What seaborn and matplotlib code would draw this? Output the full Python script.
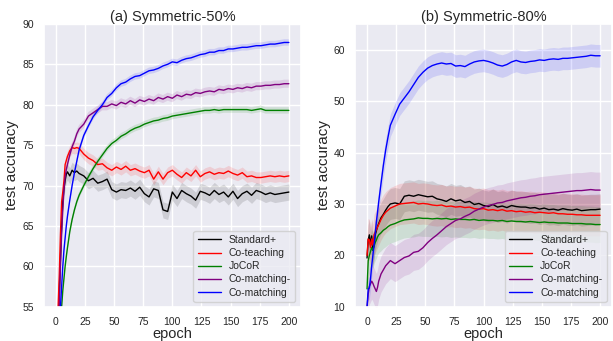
# test accuracy curves, symmetric label noise 50% / 80%
import numpy as np
import matplotlib
matplotlib.use('Agg')
import matplotlib.pyplot as plt
import seaborn as sns

epochs = list(range(0, 11)) + [12, 14, 16, 18, 20] + list(range(24, 201, 4))

methods = ['Standard+', 'Co-teaching', 'JoCoR', 'Co-matching-', 'Co-matching']
colors = ['black', 'red', 'green', 'purple', 'blue']

# (a) Symmetric-50%
sym50_standard = [38, 44, 52, 57, 61, 65, 68, 69.6, 70.6, 71.4, 71.7,
                  71.2, 71.9, 71.6, 71.8, 71.5,
                  71.2, 70.6, 70.9, 70.3, 70.5, 70.8, 69.5, 69.2, 69.5, 69.4,
                  69.7, 69.3, 69.8, 69.0, 68.6, 69.6, 69.4, 67.0, 66.8, 69.2,
                  68.4, 69.4, 69.0, 68.7, 68.2, 69.3, 69.1, 68.8, 69.4, 68.9,
                  69.2, 68.6, 69.3, 68.4, 69.0, 69.3, 68.8, 69.4, 69.2, 68.9,
                  69.1, 68.9, 69.0, 69.1, 69.2]
sym50_coteaching = [40, 47, 55, 59, 64, 68, 69.2, 70.6, 72.6, 73.1, 73.6,
                    74.3, 74.7, 74.6, 74.7, 74.6,
                    73.9, 73.4, 73.1, 72.6, 72.7, 72.2, 71.9, 72.3, 72.0, 72.4,
                    71.9, 72.1, 71.8, 71.6, 71.9, 70.8, 71.7, 70.8, 71.6, 71.9,
                    71.4, 71.0, 71.6, 71.2, 71.9, 71.1, 71.5, 71.7, 71.4, 71.6,
                    71.5, 71.8, 71.5, 71.3, 71.6, 71.1, 71.2, 71.0, 71.0, 71.1,
                    71.2, 71.1, 71.2, 71.1, 71.2]
sym50_jocor = [30, 36, 41, 46, 50, 55, 57, 58.5, 60, 61.2, 62.3,
               64.3, 65.8, 67.0, 68.0, 68.8,
               70.0, 71.1, 72.1, 73.0, 73.8, 74.6, 75.2, 75.6, 76.1, 76.4,
               76.8, 77.1, 77.3, 77.6, 77.8, 78.0, 78.1, 78.3, 78.4, 78.6,
               78.7, 78.8, 78.9, 79.0, 79.1, 79.2, 79.3, 79.3, 79.4, 79.3,
               79.4, 79.4, 79.4, 79.4, 79.4, 79.4, 79.3, 79.4, 79.5, 79.3,
               79.3, 79.3, 79.3, 79.3, 79.3]
sym50_comatch_minus = [38, 45, 50, 55, 60, 64, 67, 69.5, 71, 72, 72.6,
                       73.8, 74.8, 75.5, 76.4, 77.0,
                       77.6, 78.6, 79.0, 79.4, 79.8, 79.8, 80.1, 79.9, 80.3, 80.1,
                       80.5, 80.2, 80.6, 80.4, 80.7, 80.5, 80.9, 80.7, 81.0, 80.8,
                       81.2, 81.0, 81.3, 81.2, 81.5, 81.4, 81.6, 81.7, 81.6, 81.9,
                       81.8, 82.0, 81.9, 82.1, 82.0, 82.2, 82.1, 82.3, 82.3, 82.4,
                       82.4, 82.5, 82.5, 82.6, 82.6]
sym50_comatch = [30, 38, 45, 50, 55, 57.5, 60, 62, 63.5, 65, 66.2,
                 68.2, 70.0, 71.6, 73.0, 74.4,
                 76.2, 77.4, 78.5, 79.3, 80.0, 80.9, 81.4, 82.1, 82.6, 82.8,
                 83.2, 83.5, 83.6, 83.9, 84.2, 84.3, 84.5, 84.8, 85.0, 85.3,
                 85.2, 85.5, 85.7, 85.8, 86.0, 86.2, 86.3, 86.5, 86.5, 86.7,
                 86.7, 86.9, 86.9, 87.0, 87.1, 87.1, 87.2, 87.3, 87.3, 87.4,
                 87.5, 87.5, 87.6, 87.7, 87.7]
sym50_spread = [1.0, 0.7, 0.4, 0.5, 0.4]

# (b) Symmetric-80%
sym80_standard = [19.5, 23.0, 24.0, 22.0, 23.8, 21.0, 22.0, 24.0, 24.8, 25.6, 26.2,
                  27.3, 28.0, 28.8, 29.5, 30.0,
                  30.2, 30.0, 31.5, 31.7, 31.5, 31.8, 31.6, 31.4, 31.5, 31.0,
                  30.8, 30.5, 31.0, 30.6, 30.8, 30.3, 30.5, 29.9, 30.1, 29.7,
                  29.5, 29.9, 29.4, 29.6, 29.3, 29.7, 29.5, 29.4, 29.4, 29.2,
                  29.3, 29.0, 29.2, 28.9, 29.0, 28.8, 29.1, 28.9, 28.8, 29.0,
                  28.7, 28.8, 28.9, 28.9, 29.0]
sym80_coteaching = [20.0, 23.2, 23.0, 21.5, 23.2, 22.0, 24.0, 24.5, 25.0, 25.5, 26.0,
                    27.0, 27.8, 28.4, 28.8, 29.2,
                    29.6, 30.0, 30.1, 30.2, 30.3, 30.0, 30.1, 30.0, 29.8, 29.7,
                    29.8, 29.5, 29.6, 29.4, 29.5, 29.3, 29.4, 29.1, 29.0, 29.1,
                    28.8, 28.9, 28.7, 28.9, 28.6, 28.7, 28.5, 28.6, 28.4, 28.5,
                    28.3, 28.4, 28.3, 28.2, 28.3, 28.1, 28.1, 28.0, 28.0, 27.9,
                    27.9, 27.8, 27.8, 27.8, 27.8]
sym80_jocor = [13.5, 19.0, 20.0, 20.8, 21.5, 21.0, 21.8, 22.5, 23.0, 23.6, 24.0,
               24.4, 24.9, 25.2, 25.6, 25.9,
               26.2, 26.6, 26.9, 27.0, 27.1, 27.3, 27.2, 27.2, 27.1, 27.2,
               27.1, 27.2, 27.0, 27.1, 27.0, 27.0, 26.9, 27.0, 26.8, 26.9,
               26.8, 26.8, 26.7, 26.8, 26.6, 26.7, 26.6, 26.6, 26.5, 26.6,
               26.5, 26.4, 26.5, 26.4, 26.4, 26.3, 26.3, 26.3, 26.2, 26.2,
               26.2, 26.1, 26.1, 26.0, 26.0]
sym80_comatch_minus = [10.0, 12.5, 14.0, 14.5, 15.0, 14.6, 14.0, 13.5, 13.0, 13.8, 15.0,
                       16.4, 17.2, 18.0, 18.5, 19.0,
                       18.4, 19.0, 19.6, 19.9, 20.6, 20.8, 21.5, 22.5, 23.3, 24.0,
                       24.8, 25.6, 26.2, 26.8, 27.1, 27.6, 28.0, 28.6, 29.0, 29.4,
                       29.7, 29.9, 30.2, 30.3, 30.6, 30.8, 31.0, 31.2, 31.3, 31.5,
                       31.6, 31.8, 31.9, 32.0, 32.1, 32.2, 32.3, 32.4, 32.5, 32.6,
                       32.6, 32.7, 32.8, 32.7, 32.7]
sym80_comatch = [10.0, 13.5, 13.7, 15.5, 18.0, 20.0, 22.0, 24.2, 26.5, 28.4, 30.4,
                 34.0, 37.5, 40.5, 43.0, 45.3,
                 47.4, 49.4, 50.6, 51.8, 53.2, 54.6, 55.6, 56.4, 56.9, 57.2,
                 57.4, 57.2, 57.3, 56.8, 56.9, 56.7, 57.2, 57.6, 57.8, 57.9,
                 57.7, 57.4, 57.0, 56.8, 57.1, 57.6, 57.9, 57.6, 57.5, 57.7,
                 57.8, 58.0, 57.9, 58.1, 58.2, 58.1, 58.3, 58.3, 58.4, 58.5,
                 58.6, 58.7, 58.9, 58.8, 58.8]
sym80_spread = [3.0, 4.0, 3.5, 3.5, 2.2]

sns.set_theme(style='darkgrid')
plt.rcParams['font.family'] = ['Liberation Sans', 'DejaVu Sans']

fig, (ax1, ax2) = plt.subplots(ncols=2, figsize=(6.13, 3.41), dpi=100)

panels = [
    (ax1, [sym50_standard, sym50_coteaching, sym50_jocor, sym50_comatch_minus, sym50_comatch],
     sym50_spread, '(a) Symmetric-50%', (55, 90), range(55, 91, 5)),
    (ax2, [sym80_standard, sym80_coteaching, sym80_jocor, sym80_comatch_minus, sym80_comatch],
     sym80_spread, '(b) Symmetric-80%', (10, 65), range(10, 61, 10)),
]

x = np.array(epochs)
for ax, series, spread, title, ylim, yticks in panels:
    for name, col, vals, s in zip(methods, colors, series, spread):
        y = np.array(vals)
        ax.fill_between(x, y - s, y + s, color=col, alpha=0.12, lw=0)
        sns.lineplot(x=x, y=y, color=col, lw=1.0, label=name, ax=ax)
    ax.set_title(title, fontsize=10.5, pad=2)
    ax.set_xlabel('epoch', fontsize=10.5, labelpad=0)
    ax.set_ylabel('test accuracy', fontsize=11, labelpad=2)
    ax.set_xlim(-10, 210)
    ax.set_ylim(*ylim)
    ax.set_xticks(range(0, 201, 25))
    ax.set_yticks(list(yticks))
    ax.tick_params(labelsize=7.5, pad=1.5)
    ax.legend(loc='lower right', fontsize=7.5, frameon=True, borderpad=0.4,
              labelspacing=0.3, handlelength=2.2)

fig.subplots_adjust(left=0.072, right=0.998, bottom=0.1, top=0.93, wspace=0.214)
fig.savefig('out.png', dpi=100)
